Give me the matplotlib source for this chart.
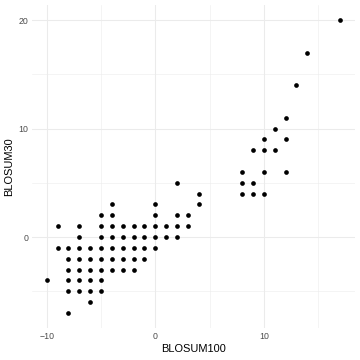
import matplotlib
matplotlib.use("Agg")
import matplotlib.pyplot as plt
from matplotlib.ticker import FixedLocator

plt.rcParams['font.family'] = ['Liberation Sans', 'DejaVu Sans']

# Unique (BLOSUM100, BLOSUM30) pairs
blosum100 = [
    -10,
    -9, -7, -5, -4, -3, -2, -1, 0, 1, 2, 3,          # y=1
    -7, -5, -4, -3, -2, -1, 0, 1, 2,                 # y=0
    -9, -8, -7, -6, -5, -4, -3, -2, -1, 0,           # y=-1
    -8, -7, -6, -5, -4, -3, -2, -1,                  # y=-2
    -8, -7, -6, -5, -4, -3, -2,                      # y=-3
    -8, -7, -6, -5,                                  # y=-4
    -8, -7, -6, -5,                                  # y=-5
    -6, -8,                                          # y=-6, -7
    -5, -4, 0, 2, 3,                                 # y=2
    -4, 0, 4,                                        # y=3
    4, 8, 9, 10,                                     # y=4
    2, 8, 9,                                         # y=5
    8, 10, 12,                                       # y=6
    9, 10, 11,                                       # y=8
    10, 12,                                          # y=9
    11, 12, 13, 14, 17,
]
blosum30 = [
    -4,
    1, 1, 1, 1, 1, 1, 1, 1, 1, 1, 1,
    0, 0, 0, 0, 0, 0, 0, 0, 0,
    -1, -1, -1, -1, -1, -1, -1, -1, -1, -1,
    -2, -2, -2, -2, -2, -2, -2, -2,
    -3, -3, -3, -3, -3, -3, -3,
    -4, -4, -4, -4,
    -5, -5, -5, -5,
    -6, -7,
    2, 2, 2, 2, 2,
    3, 3, 3,
    4, 4, 4, 4,
    5, 5, 5,
    6, 6, 6,
    8, 8, 8,
    9, 9,
    10, 11, 14, 17, 20,
]

x_ticks = [-10, 0, 10]
y_ticks = [0, 10, 20]
x_minor = [-5, 5, 15]
y_minor = [-5, 5, 15]

fig = plt.figure(figsize=(5, 5), dpi=72)
ax = fig.add_axes([0.0889, 0.09, 0.896, 0.895])

ax.scatter(blosum100, blosum30, s=22, c='black', linewidths=0, zorder=3)

xmin, xmax = min(blosum100), max(blosum100)
ymin, ymax = min(blosum30), max(blosum30)
dx = (xmax - xmin) * 0.05
dy = (ymax - ymin) * 0.05
ax.set_xlim(xmin - dx, xmax + dx)
ax.set_ylim(ymin - dy, ymax + dy)

ax.xaxis.set_major_locator(FixedLocator(x_ticks))
ax.yaxis.set_major_locator(FixedLocator(y_ticks))
ax.xaxis.set_minor_locator(FixedLocator(x_minor))
ax.yaxis.set_minor_locator(FixedLocator(y_minor))

ax.grid(which='major', color='#EBEBEB', linewidth=1.07, zorder=0)
ax.grid(which='minor', color='#EBEBEB', linewidth=0.53, zorder=0)
ax.set_axisbelow(True)
for s in ax.spines.values():
    s.set_visible(False)
ax.tick_params(which='both', length=0, labelsize=8.8, labelcolor='#4D4D4D')
ax.tick_params(axis='x', pad=4)
ax.tick_params(axis='y', pad=4)

ax.set_xlabel('BLOSUM100', fontsize=11, labelpad=3)
ax.set_ylabel('BLOSUM30', fontsize=11, labelpad=4)

fig.savefig('out.png', dpi=72)
